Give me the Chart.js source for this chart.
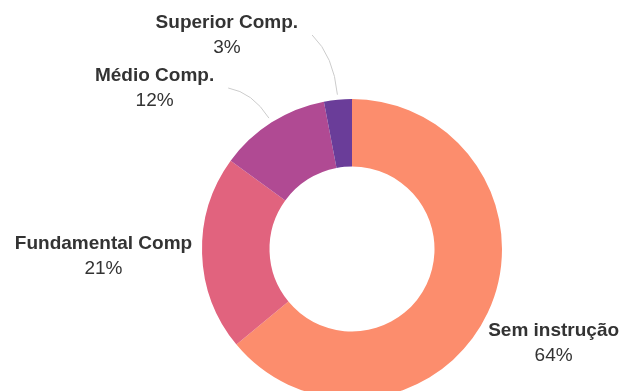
<!DOCTYPE html>
<html><head><meta charset="utf-8">
<script src="https://cdn.jsdelivr.net/npm/chart.js@4/dist/chart.umd.min.js"></script>
<style>
html,body{margin:0;padding:0;background:#fff;overflow:hidden;width:620px;height:391px}
#wrap{position:absolute;left:0;top:0;width:620px;height:420px}
</style>
</head><body><div id="wrap"><canvas id="c"></canvas></div>
<script>
// ---- data ----
const categories = ['Sem instrução', 'Fundamental Comp', 'Médio Comp.', 'Superior Comp.'];
const shares = [64, 21, 12, 3];
const percentLabels = ['64%', '21%', '12%', '3%'];
const sliceColors = ['#FC8D6D', '#E1637E', '#B04A93', '#6A3D99'];

const FONT = '"Liberation Sans", Arial, sans-serif';

const outsideLabels = {
  id: 'outsideLabels',
  afterDraw(chart) {
    const ctx = chart.ctx;
    const meta = chart.getDatasetMeta(0);
    const items = meta.data.map((arc, i) => {
      const p = arc.getProps(['x', 'y', 'startAngle', 'endAngle', 'outerRadius'], true);
      const mid = (p.startAngle + p.endAngle) / 2;
      const R = p.outerRadius + 70;
      return { i, p, mid, side: Math.cos(mid) >= 0 ? 1 : -1, y: p.y + R * Math.sin(mid) };
    });
    [1, -1].forEach(side => {
      const list = items.filter(it => it.side === side).sort((a, b) => a.y - b.y);
      let prev = -Infinity;
      list.forEach(it => { it.y = Math.max(it.y, prev + 53, 35); prev = it.y; });
    });
    items.forEach(it => {
      const { p, mid, side } = it;
      const dy = it.y - p.y;
      const r = p.outerRadius;
      ctx.save();
      ctx.font = 'bold 19px ' + FONT;
      const w = ctx.measureText(categories[it.i]).width;
      let edge;
      if (Math.abs(dy) < r) {
        const gap = side > 0 ? 19 : 10;
        edge = p.x + side * (Math.sqrt(r * r - dy * dy) + gap);
      } else {
        const a = mid + side * 0.09;
        const t = dy / Math.sin(a);
        const ex = p.x + t * Math.cos(a);
        const ey = it.y;
        const sx = p.x + (r + 5) * Math.cos(mid), sy = p.y + (r + 5) * Math.sin(mid);
        const len = Math.hypot(ex - sx, ey - sy);
        const cx = sx + Math.cos(mid) * len * 0.6, cy = sy + Math.sin(mid) * len * 0.6;
        ctx.beginPath();
        ctx.moveTo(sx, sy);
        ctx.quadraticCurveTo(cx, cy, ex, ey);
        ctx.strokeStyle = '#cccccc';
        ctx.lineWidth = 1;
        ctx.stroke();
        edge = ex + side * 14;
      }
      const tx = edge + side * w / 2;
      ctx.textAlign = 'center';
      ctx.textBaseline = 'alphabetic';
      ctx.fillStyle = '#333333';
      ctx.fillText(categories[it.i], tx, it.y - 7);
      ctx.font = '19px ' + FONT;
      ctx.fillText(percentLabels[it.i], tx, it.y + 18);
      ctx.restore();
    });
  }
};

new Chart(document.getElementById('c'), {
  type: 'doughnut',
  data: {
    labels: categories,
    datasets: [{ data: shares, backgroundColor: sliceColors, borderWidth: 0 }]
  },
  options: {
    responsive: true,
    maintainAspectRatio: false,
    animation: false,
    cutout: '55%',
    layout: { padding: { left: 202, right: 118, top: 99, bottom: 21 } },
    plugins: { legend: { display: false }, tooltip: { enabled: false } }
  },
  plugins: [outsideLabels]
});
</script>
</body></html>
